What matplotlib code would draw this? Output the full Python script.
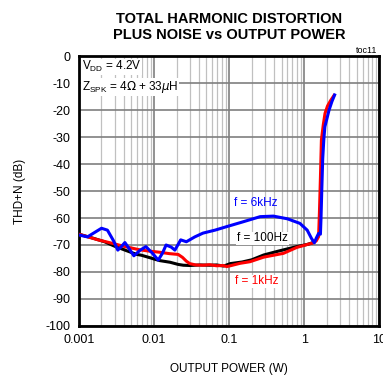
import matplotlib
matplotlib.use("Agg")
import matplotlib.pyplot as plt
import numpy as np
from matplotlib.ticker import LogLocator, NullFormatter, FixedLocator

plt.rcParams['font.family'] = ['Liberation Sans', 'DejaVu Sans']
plt.rcParams['axes.unicode_minus'] = False

# f = 6kHz
p_6k = [0.001, 0.0013, 0.0017, 0.002, 0.0024, 0.0029, 0.0033, 0.0037, 0.0041, 0.0047,
        0.0054, 0.0065, 0.0078, 0.0095, 0.0114, 0.013, 0.0145, 0.017, 0.019, 0.0227,
        0.027, 0.035, 0.045, 0.065, 0.093, 0.15, 0.26, 0.39, 0.6, 0.88, 1.1, 1.25,
        1.37, 1.45, 1.56, 1.65, 1.68, 1.72, 1.77, 1.83, 1.89, 2.0, 2.15, 2.35, 2.55]
thd_6k = [-66.3, -67.0, -65.0, -63.8, -64.5, -68.5, -71.9, -70.5, -69.1, -71.5,
          -74.0, -72.0, -70.6, -73.0, -75.6, -73.0, -70.0, -70.8, -71.9, -68.1,
          -68.8, -67.0, -65.6, -64.5, -63.2, -61.5, -59.5, -59.3, -60.3, -62.0, -64.5, -67.5,
          -69.2, -67.5, -65.7, -66.0, -60.0, -49.6, -38.0, -31.0, -26.2, -23.5, -20.0, -16.8, -14.4]

# f = 100Hz
p_100 = [0.001, 0.00155, 0.0022, 0.0029, 0.0042, 0.0059, 0.0068, 0.0088, 0.0103, 0.012,
         0.0164, 0.021, 0.0246, 0.03, 0.041, 0.055, 0.068, 0.085, 0.104, 0.15, 0.2,
         0.29, 0.45, 0.8, 1.1, 1.32]
thd_100 = [-66.0, -67.5, -68.8, -70.3, -72.0, -73.5, -73.8, -74.7, -75.3, -75.8,
           -76.4, -77.2, -77.5, -77.6, -77.4, -77.5, -77.4, -77.8, -76.9, -76.3, -75.5,
           -73.7, -72.3, -70.6, -69.8, -69.1]

# f = 1kHz
p_1k = [0.001, 0.0018, 0.0029, 0.0041, 0.0065, 0.0088, 0.0103, 0.012, 0.016, 0.021,
        0.024, 0.027, 0.03, 0.036, 0.045, 0.055, 0.068, 0.084, 0.093, 0.104, 0.14, 0.19,
        0.29, 0.53, 0.8, 1.32, 1.45, 1.56, 1.6, 1.65, 1.7, 1.8, 1.9, 2.05, 2.25, 2.5]
thd_1k = [-66.0, -68.1, -69.5, -70.6, -71.8, -72.3, -72.5, -72.7, -73.2, -73.5,
          -74.6, -76.0, -76.9, -77.4, -77.5, -77.3, -77.7, -77.6, -78.0, -77.7, -76.8, -76.2,
          -74.5, -73.1, -70.9, -69.2, -68.5, -66.9, -58.0, -45.0, -31.1, -25.5, -21.2, -18.5, -16.5, -14.6]

fig = plt.figure(figsize=(3.83, 3.79), dpi=100)
ax = fig.add_axes([0.206, 0.140, 0.784, 0.712])

ax.plot(p_100, thd_100, color='black', lw=2.2, zorder=3)
ax.plot(p_1k, thd_1k, color='#ff0000', lw=2.2, zorder=4)
ax.plot(p_6k, thd_6k, color='#0000ff', lw=2.2, zorder=5)

ax.set_xscale('log')
ax.set_xlim(0.001, 10)
ax.set_ylim(-100, 0)
ax.set_yticks(np.arange(-100, 1, 10))
ax.xaxis.set_major_locator(FixedLocator([0.001, 0.01, 0.1, 1, 10]))
ax.set_xticklabels(['0.001', '0.01', '0.1', '1', '10'])
ax.xaxis.set_minor_locator(LogLocator(base=10, subs=np.arange(2, 10)))
ax.xaxis.set_minor_formatter(NullFormatter())
ax.grid(True, which='major', color='#7f7f7f', lw=1.2)
ax.grid(True, which='minor', axis='x', color='#c0c0c0', lw=0.9)
ax.tick_params(which='both', length=0, labelsize=9, pad=6)
for s in ax.spines.values():
    s.set_linewidth(2)
    s.set_color('black')
ax.set_axisbelow(True)

ax.set_xlabel('OUTPUT POWER (W)', fontsize=8.5, labelpad=12)
ax.set_ylabel('THD+N (dB)', fontsize=8.5, labelpad=14)

fig.text(0.598, 0.968, 'TOTAL HARMONIC DISTORTION\nPLUS NOISE vs OUTPUT POWER',
         ha='center', va='top', fontsize=10.5, fontweight='bold', linespacing=1.2)
fig.text(0.985, 0.855, 'toc11', ha='right', va='bottom', fontsize=6.5)

ax.text(0.0011, -4, r'V$_{\mathregular{DD}}$ = 4.2V', fontsize=8.5, va='center', ha='left',
        bbox=dict(facecolor='white', edgecolor='none', pad=0.5))
ax.text(0.0011, -11.5, r'Z$_{\mathregular{SPK}}$ = 4$\Omega$ + 33$\mu$H', fontsize=8.5, va='center', ha='left',
        bbox=dict(facecolor='white', edgecolor='none', pad=0.5))
ax.text(0.117, -54.5, 'f = 6kHz', color='#0000ff', fontsize=8.5, va='center', ha='left', zorder=6)
ax.text(0.128, -67.5, 'f = 100Hz', color='black', fontsize=8.5, va='center', ha='left', zorder=6,
        bbox=dict(facecolor='white', edgecolor='none', pad=0.5))
ax.text(0.12, -83.5, 'f = 1kHz', color='#ff0000', fontsize=8.5, va='center', ha='left', zorder=6,
        bbox=dict(facecolor='white', edgecolor='none', pad=0.5))

fig.savefig('out.png', dpi=100)
